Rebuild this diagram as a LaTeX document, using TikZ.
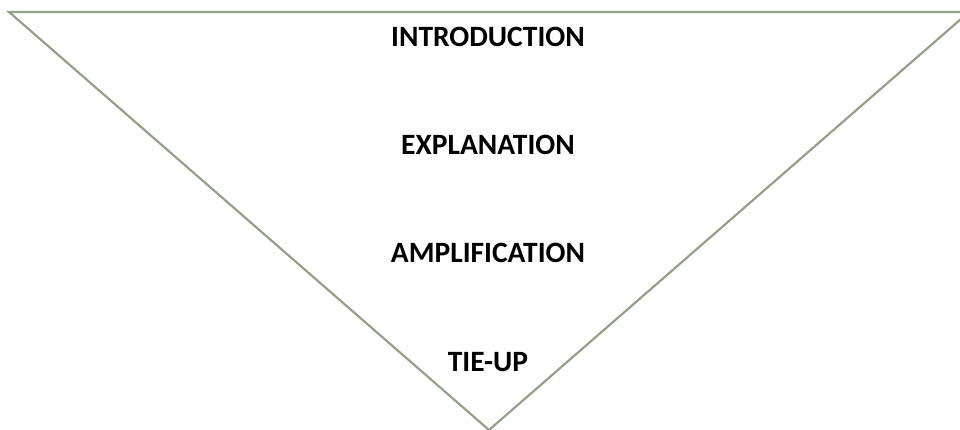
\documentclass[tikz,border=0pt]{standalone}
\usepackage{fontspec}
\setmainfont{Carlito}
\definecolor{edge}{RGB}{148,160,136}
\tikzset{lbl/.style={inner sep=0pt, font=\fontsize{29.5}{32}\selectfont\bfseries, text=black}}
\begin{document}
\begin{tikzpicture}[x=1pt,y=-1pt]
\useasboundingbox (0,0) rectangle (960,430);
\coordinate (tl) at (9,12);
\coordinate (tr) at (969,12);
\coordinate (ap) at (489,430);
\draw[edge, line width=2.2pt, line join=miter] (tl) -- (tr) -- (ap) -- cycle;
\node[lbl] (intro) at (488,37) {INTRODUCTION};
\node[lbl] (expl) at (488,145) {EXPLANATION};
\node[lbl] (ampl) at (488,253) {AMPLIFICATION};
\node[lbl] (tie) at (488,362) {TIE-UP};
\end{tikzpicture}
\end{document}
